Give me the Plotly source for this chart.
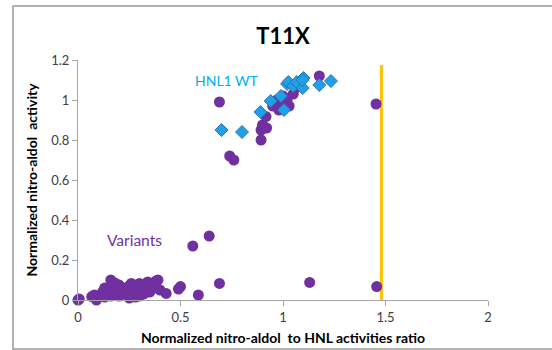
import plotly.graph_objects as go

# Variants (purple circles)
var_x = [0.0, 0.006, 0.067, 0.09, 0.08, 0.10, 0.12, 0.13, 0.14, 0.15, 0.16, 0.16, 0.17, 0.18,
         0.19, 0.20, 0.20, 0.21, 0.22, 0.23, 0.24, 0.25, 0.26, 0.26, 0.27, 0.28, 0.29, 0.30,
         0.30, 0.31, 0.32, 0.33, 0.34, 0.35, 0.36, 0.37, 0.38, 0.39, 0.40, 0.43, 0.13, 0.22,
         0.28, 0.35, 0.18, 0.25, 0.32, 0.38,
         0.49, 0.50, 0.56, 0.587, 0.64, 0.69, 1.13, 1.457,
         0.69, 0.74, 0.76, 0.893, 0.893, 0.90, 0.917, 0.92, 0.95, 0.97, 0.98, 0.99, 1.0,
         1.0, 1.01, 1.02, 1.03, 1.05, 1.06, 1.177, 1.454]
var_y = [0.0, 0.005, 0.017, 0.0, 0.025, 0.02, 0.04, 0.06, 0.03, 0.05, 0.10, 0.02, 0.07, 0.04,
         0.06, 0.075, 0.02, 0.05, 0.03, 0.06, 0.04, 0.07, 0.083, 0.03, 0.05, 0.06, 0.04, 0.083,
         0.02, 0.06, 0.05, 0.07, 0.09, 0.04, 0.08, 0.06, 0.095, 0.10, 0.05, 0.033, 0.015, 0.045,
         0.015, 0.065, 0.085, 0.01, 0.03, 0.07,
         0.055, 0.067, 0.27, 0.025, 0.32, 0.083, 0.088, 0.067,
         0.99, 0.72, 0.70, 0.80, 0.85, 0.875, 0.917, 0.86, 0.97, 1.0, 0.95, 0.98, 1.02,
         0.96, 0.99, 1.0, 0.97, 1.03, 1.06, 1.12, 0.98]

# HNL1 WT (blue diamonds)
wt_x = [0.70, 0.80, 0.89, 0.94, 0.99, 1.005, 1.02, 1.026, 1.05, 1.067, 1.096, 1.10, 1.096, 1.177, 1.234]
wt_y = [0.85, 0.84, 0.94, 0.995, 1.02, 0.95, 1.08, 1.09, 1.07, 1.09, 1.06, 1.11, 1.10, 1.075, 1.095]

# Threshold line
thr_x = [1.48, 1.48]
thr_y = [0.0, 1.175]

font_family = "Lato, 'Open Sans', sans-serif"

fig = go.Figure()
fig.add_trace(go.Scatter(x=thr_x, y=thr_y, mode="lines",
                         line=dict(color="#FFC000", width=3), cliponaxis=False,
                         showlegend=False, hoverinfo="skip"))
fig.add_trace(go.Scatter(x=var_x, y=var_y, mode="markers", name="Variants",
                         marker=dict(symbol="circle", size=11, color="#7030A0",
                                     line=dict(width=0)),
                         cliponaxis=False, showlegend=False))
fig.add_trace(go.Scatter(x=wt_x, y=wt_y, mode="markers", name="HNL1 WT",
                         marker=dict(symbol="diamond", size=10, color="#1FA0E8",
                                     line=dict(width=1, color="#2E75B6")),
                         cliponaxis=False, showlegend=False))

fig.update_layout(
    width=552, height=350,
    margin=dict(l=78, r=64, t=60, b=50),
    paper_bgcolor="white", plot_bgcolor="white",
    font=dict(family=font_family, color="#404040", size=13),
    title=dict(text="<b>T11X</b>", x=283 / 552, xanchor="center",
               y=1 - 36 / 350, yanchor="middle",
               font=dict(size=22, color="black", family=font_family)),
    xaxis=dict(range=[0, 2], tickvals=[0, 0.5, 1, 1.5, 2], ticktext=["0", "0.5", "1", "1.5", "2"],
               showgrid=False, zeroline=False, showline=True, linecolor="#A6A6A6", linewidth=1,
               ticks="outside", ticklen=5, tickcolor="#A6A6A6", automargin=False,
               tickfont=dict(size=13),
               title=dict(text="<b>Normalized nitro-aldol  to HNL activities ratio</b>",
                          font=dict(size=14, color="black"), standoff=9)),
    yaxis=dict(range=[0, 1.2], tickvals=[0, 0.2, 0.4, 0.6, 0.8, 1, 1.2],
               ticktext=["0", "0.2", "0.4", "0.6", "0.8", "1", "1.2"],
               showgrid=False, zeroline=False, showline=True, linecolor="#A6A6A6", linewidth=1,
               ticks="outside", ticklen=5, tickcolor="#A6A6A6", automargin=False,
               tickfont=dict(size=13),
               title=dict(text="<b>Normalized nitro-aldol  activity</b>",
                          font=dict(size=14, color="black"), standoff=10)),
    annotations=[
        dict(x=0.56, y=1.1, xref="x", yref="y", text="HNL1 WT", showarrow=False,
             xanchor="left", yanchor="middle", font=dict(size=14, color="#00B0F0")),
        dict(x=0.13, y=0.3, xref="x", yref="y", text="Variants", showarrow=False,
             xanchor="left", yanchor="middle", font=dict(size=15.5, color="#7030A0")),
    ],
    shapes=[dict(type="rect", xref="paper", yref="paper",
                 x0=(13 - 78) / 410, x1=(560 - 78) / 410,
                 y0=(300 - 349) / 240, y1=(300 - 6) / 240,
                 line=dict(color="#9A9A9A", width=1.5), layer="below")],
)

fig.write_html("out.html")
